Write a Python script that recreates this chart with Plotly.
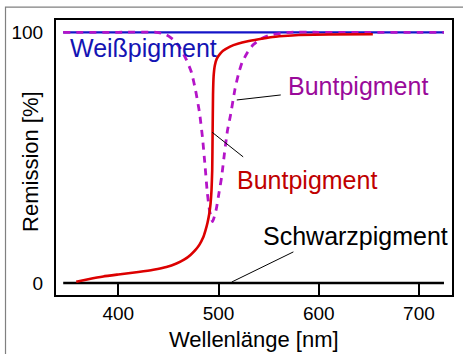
import plotly.graph_objects as go

# ---------------- data ----------------
white_x = [345, 725]
white_y = [100, 100]

black_x = [345, 725]
black_y = [0, 0]

bunt_dash_x = [345, 400, 438, 448, 455, 462, 468, 473, 477, 481, 484, 486.5, 488.8, 491, 494,
               497.5, 500.5, 503, 506, 509, 512, 516.5, 520, 523.5, 529, 534.5, 542, 551.5,
               562, 572, 600, 650, 700, 725]
bunt_dash_y = [100, 100, 100, 99, 97, 93.5, 89, 84, 77, 68, 58, 47, 36, 29, 24.5,
               29, 36, 42, 52, 61, 67, 77.5, 83.5, 88, 92, 95, 97.3, 98.9,
               99.6, 100, 100, 100, 100, 100]

bunt_red_x = [358, 370, 385, 400, 420, 435, 448, 458, 466, 472, 477, 481, 484.5, 487, 489,
              490.7, 492, 493, 493.7, 494.1, 494.5, 495.1, 496.3, 498.3, 501.5, 504.5, 511.5,
              520, 528, 540, 552, 565, 580, 610, 654]
bunt_red_y = [0.5, 1.5, 2.6, 3.4, 4.4, 5.3, 6.4, 7.8, 9.4, 11.2, 13.2, 15.3, 18, 21, 24,
              27.5, 31.5, 37, 45, 60, 75, 82.5, 86.8, 89.5, 91.4, 92.6, 94.3,
              95.5, 96.3, 97.2, 98, 98.5, 98.9, 99.1, 99.2]

x_ticks = [400, 500, 600, 700]
y_ticks = [0, 100]

labels = ["Weißpigment", "Buntpigment", "Buntpigment", "Schwarzpigment"]
label_x = [349.5, 567.5, 516, 542.5]
label_y = [93.7, 78.6, 41.1, 18.8]
label_colors = ["#1414b4", "#9a0a9a", "#c00000", "#000000"]

# leader lines: (x0, y0, x1, y1)
leaders = [
    (518.2, 73, 562.1, 75),
    (493.7, 60.1, 524.6, 50.3),
    (513.2, 0.4, 574.7, 12.4),
]

x_title = "Wellenlänge [nm]"
y_title = "Remission [%]"

FONT = "Liberation Sans, Arial, sans-serif"

fig = go.Figure()
fig.add_trace(go.Scatter(x=black_x, y=black_y, mode="lines",
                         line=dict(color="#000000", width=2.5), hoverinfo="skip"))
fig.add_trace(go.Scatter(x=white_x, y=white_y, mode="lines",
                         line=dict(color="#1414c8", width=2.2), hoverinfo="skip"))
fig.add_trace(go.Scatter(x=bunt_dash_x, y=bunt_dash_y, mode="lines",
                         line=dict(color="#b414c8", width=2.8, dash="7px,6px", shape="spline", smoothing=0.5),
                         hoverinfo="skip"))
fig.add_trace(go.Scatter(x=bunt_red_x, y=bunt_red_y, mode="lines",
                         line=dict(color="#dc0000", width=2.6, shape="spline", smoothing=0.4),
                         hoverinfo="skip"))

for t, x, y, c in zip(labels, label_x, label_y, label_colors):
    fig.add_annotation(x=x, y=y, xref="x", yref="y", text=t, showarrow=False,
                       xanchor="left", yanchor="middle",
                       font=dict(family=FONT, size=25, color=c))

# y-axis title placed as rotated annotation (overlaps tick-label column like the original)
fig.add_annotation(x=-0.066, y=0.487, xref="paper", yref="paper", text=y_title, showarrow=False,
                   textangle=-90, xanchor="center", yanchor="middle",
                   font=dict(family=FONT, size=22, color="#000000"))
fig.add_annotation(x=0.5, y=-0.16, xref="paper", yref="paper", text=x_title, showarrow=False,
                   xanchor="center", yanchor="middle",
                   font=dict(family=FONT, size=22, color="#000000"))

shapes = []
for x0, y0, x1, y1 in leaders:
    shapes.append(dict(type="line", xref="x", yref="y", x0=x0, y0=y0, x1=x1, y1=y1,
                       line=dict(color="#000000", width=1)))
# outer gray frame
shapes.append(dict(type="rect", xref="paper", yref="paper", x0=-0.1275, y0=-0.4, x1=1.2, y1=1.047,
                   line=dict(color="#808080", width=1.2), fillcolor="rgba(0,0,0,0)", layer="below"))

fig.update_layout(
    width=463, height=354,
    margin=dict(l=56, r=11, t=20, b=59, autoexpand=False),
    paper_bgcolor="white", plot_bgcolor="white",
    showlegend=False,
    font=dict(family=FONT, color="#000000"),
    shapes=shapes,
    xaxis=dict(range=[337.8, 733], tickvals=x_ticks, ticktext=[str(v) for v in x_ticks],
               ticks="inside", ticklen=12, tickwidth=2, tickcolor="#000000",
               showline=True, linecolor="#000000", linewidth=2, mirror=True,
               showgrid=False, zeroline=False, automargin=False,
               tickfont=dict(size=19, family=FONT)),
    yaxis=dict(range=[-4.79, 104.9], tickvals=y_ticks, ticktext=[str(v) for v in y_ticks],
               ticks="", showline=True, linecolor="#000000", linewidth=2, mirror=True,
               showgrid=False, zeroline=False, automargin=False,
               tickfont=dict(size=19, family=FONT), ticklabelstandoff=7),
)

fig.write_html("out.html")
